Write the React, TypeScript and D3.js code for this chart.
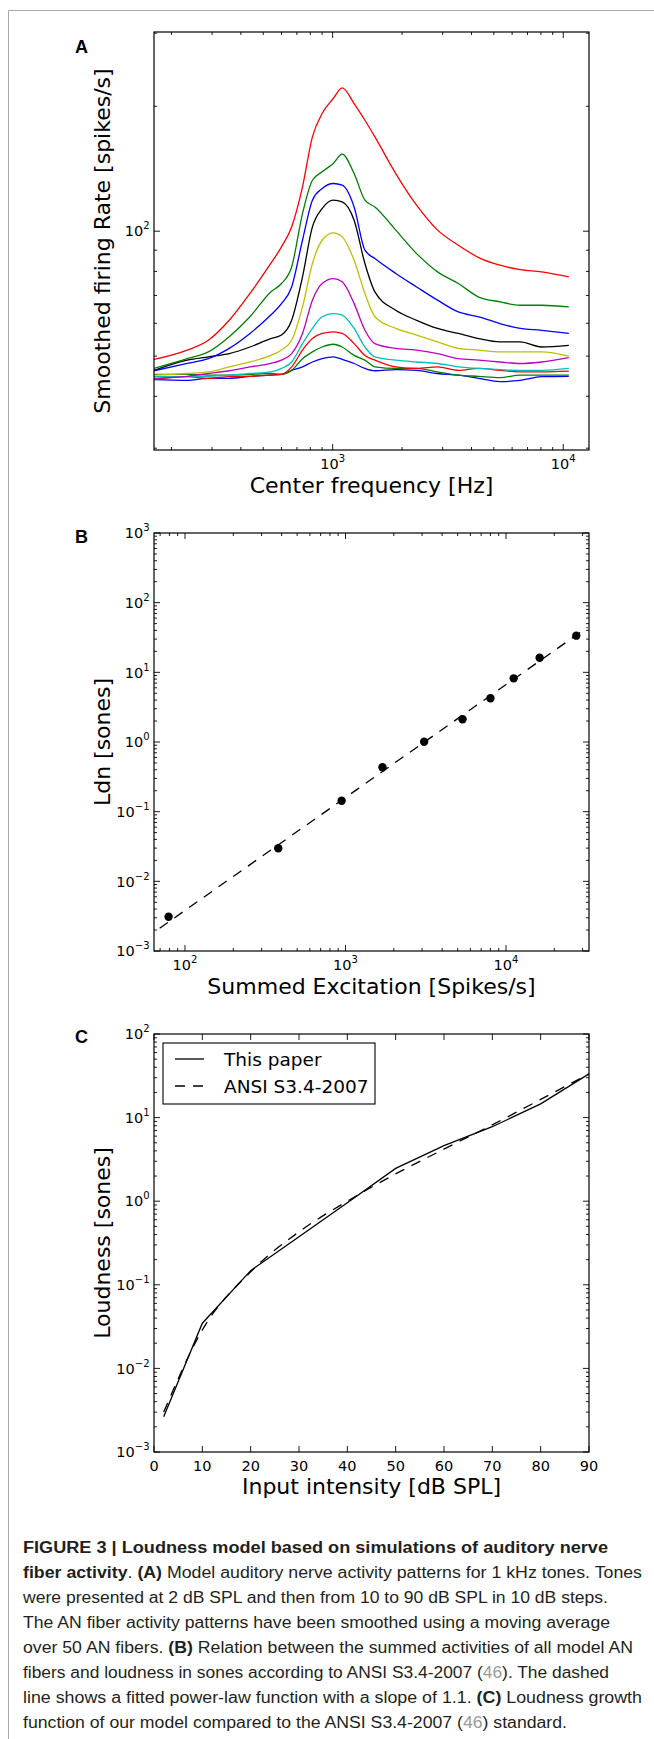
import React from 'react';
import * as d3 from 'd3';

// ---------- Panel A: smoothed AN firing rate vs. centre frequency ----------
const centerFreqs = [168, 234, 289, 356, 438, 539, 600, 664, 740, 817, 900, 1006, 1100, 1239, 1380, 1525, 1878, 2312, 2850, 3506, 4300, 5311, 6500, 8050, 10570];
const rate2dB = [43.9, 43.7, 44.2, 44.2, 44.7, 45.0, 45.2, 46.2, 47.1, 48.4, 49.3, 49.8, 49.1, 48.0, 46.7, 46.1, 46.4, 46.2, 45.4, 45.0, 44.2, 43.4, 43.7, 44.6, 44.7];
const rate10dB = [45.2, 45.2, 45.0, 45.0, 45.2, 45.4, 45.2, 46.2, 49.3, 51.2, 52.6, 53.4, 52.6, 50.2, 48.9, 47.1, 46.7, 46.7, 45.8, 45.0, 44.7, 44.4, 45.0, 45.0, 45.0];
const rate20dB = [43.9, 44.6, 44.2, 44.6, 44.7, 45.0, 45.2, 47.1, 51.7, 55.1, 56.7, 57.2, 56.7, 53.6, 50.2, 48.9, 47.1, 46.7, 47.1, 46.2, 46.7, 46.2, 45.8, 45.8, 46.0];
const rate30dB = [44.6, 44.6, 44.7, 45.0, 45.4, 45.8, 46.7, 48.4, 53.6, 58.3, 62.2, 63.3, 62.8, 58.3, 52.6, 49.8, 48.9, 48.4, 48.0, 47.1, 46.7, 46.4, 46.2, 46.2, 46.7];
const rate40dB = [44.2, 44.7, 45.4, 46.1, 47.1, 48.0, 48.9, 50.7, 56.7, 68.2, 74.8, 76.9, 75.5, 66.9, 57.7, 53.6, 52.2, 51.7, 50.7, 49.3, 48.9, 48.4, 48.0, 48.4, 49.6];
const rate50dB = [45.0, 45.4, 45.8, 47.1, 48.4, 50.2, 51.7, 54.6, 65.7, 83.6, 95.1, 99.1, 96.9, 85.1, 70.8, 62.2, 58.3, 56.2, 54.1, 52.2, 51.7, 51.2, 51.2, 51.2, 50.0];
const rate60dB = [46.2, 48.9, 49.8, 50.7, 52.6, 55.1, 56.2, 61.0, 77.6, 102.4, 113.4, 118.8, 117.7, 106.3, 83.6, 71.4, 64.5, 61.0, 58.3, 56.7, 55.1, 54.1, 54.1, 52.6, 53.1];
const rate70dB = [46.1, 48.0, 49.3, 52.2, 56.7, 62.8, 66.9, 73.4, 95.1, 118.8, 126.7, 130.3, 129.1, 114.4, 90.0, 85.9, 79.1, 73.4, 68.2, 63.9, 62.2, 59.9, 58.3, 57.7, 56.7];
const rate80dB = [46.7, 49.3, 51.2, 55.7, 62.2, 71.4, 74.8, 82.0, 110.3, 132.7, 139.0, 145.6, 153.3, 137.7, 118.8, 114.4, 100.6, 88.3, 79.8, 74.8, 69.4, 67.6, 66.3, 66.3, 65.7];
const rate90dB = [49.1, 51.7, 54.6, 61.0, 70.8, 83.6, 91.7, 102.4, 127.9, 168.8, 192.1, 208.8, 221.5, 203.0, 185.1, 168.8, 137.7, 115.5, 100.6, 92.5, 86.4, 82.8, 80.8, 79.8, 77.6];
const rateSeries = [rate2dB, rate10dB, rate20dB, rate30dB, rate40dB, rate50dB, rate60dB, rate70dB, rate80dB, rate90dB];
// classic matplotlib colour cycle: b g r c m y k
const rateColors = ['#0000ff', '#008000', '#ff0000', '#00bfbf', '#bf00bf', '#bfbf00', '#000000', '#0000ff', '#008000', '#ff0000'];
const freqDomain = [168, 12930];
const rateDomain = [29.7, 302];

// ---------- Panel B: summed excitation vs. ANSI loudness ----------
const summedExcitation = [79, 381, 946, 1700, 3090, 5360, 8000, 11170, 16200, 27400];
const ldnSones = [0.0031, 0.0298, 0.1435, 0.434, 1.01, 2.12, 4.24, 8.2, 16.2, 33.6];
const fitLineX = [69.5, 32200];
const fitLineY = [0.00212, 44.3];
const excitationDomain = [64.1, 32900];
const ldnDomain = [1e-3, 1e3];

// ---------- Panel C: loudness growth ----------
const inputLevels = [2, 10, 20, 30, 40, 50, 60, 70, 80, 90];
const loudnessModel = [0.00264, 0.0347, 0.1476, 0.376, 0.96, 2.47, 4.61, 7.78, 14.6, 33.3];
const loudnessAnsi = [0.003, 0.0288, 0.143, 0.43, 1.0, 2.12, 4.2, 8.2, 16.5, 33.4];
const levelTicks = [0, 10, 20, 30, 40, 50, 60, 70, 80, 90];
const loudnessDomain = [1e-3, 1e2];

// ---------- layout ----------
const W = 654;
const H = 1739;
const L = 154;
const R = 589;
const PH = 418;
const TOPS = [32, 533, 1034];
const TICK_FONT = 'DejaVu Sans, sans-serif';
const DASH = '10,8';

function logTicks(domain: number[]) {
  const majors: number[] = [];
  const minors: number[] = [];
  const lo = Math.floor(Math.log10(domain[0]));
  const hi = Math.ceil(Math.log10(domain[1]));
  for (let p = lo; p <= hi; p++) {
    for (let k = 1; k <= 9; k++) {
      const v = k * Math.pow(10, p);
      if (v < domain[0] * 0.9999 || v > domain[1] * 1.0001) continue;
      if (k === 1) majors.push(p);
      else minors.push(v);
    }
  }
  return { majors, minors };
}

function PowLabel({ x, y, exp, anchor }: { x: number; y: number; exp: number; anchor: string }) {
  const e = exp < 0 ? '\u2212' + Math.abs(exp) : String(exp);
  return (
    <text x={x} y={y} textAnchor={anchor} fontFamily={TICK_FONT} fontSize={14.5} fill="#000">
      10<tspan dy={-7} fontSize={10}>{e}</tspan>
    </text>
  );
}

type Scale = (v: number) => number;

function Frame({ top }: { top: number }) {
  return <rect x={L} y={top} width={R - L} height={PH} fill="none" stroke="#000" strokeWidth={1.2} />;
}

function XLogTicks({ x, domain, top }: { x: Scale; domain: number[]; top: number }) {
  const { majors, minors } = logTicks(domain);
  const bottom = top + PH;
  return (
    <g stroke="#000" strokeWidth={0.9}>
      {minors.map((v, i) => (
        <g key={'m' + i}>
          <line x1={x(v)} x2={x(v)} y1={bottom} y2={bottom - 3} />
          <line x1={x(v)} x2={x(v)} y1={top} y2={top + 3} />
        </g>
      ))}
      {majors.map((p) => (
        <g key={'M' + p}>
          <line x1={x(Math.pow(10, p))} x2={x(Math.pow(10, p))} y1={bottom} y2={bottom - 6} />
          <line x1={x(Math.pow(10, p))} x2={x(Math.pow(10, p))} y1={top} y2={top + 6} />
          <g stroke="none">
            <PowLabel x={x(Math.pow(10, p))} y={bottom + 18.5} exp={p} anchor="middle" />
          </g>
        </g>
      ))}
    </g>
  );
}

function YLogTicks({ y, domain }: { y: Scale; domain: number[] }) {
  const { majors, minors } = logTicks(domain);
  return (
    <g stroke="#000" strokeWidth={0.9}>
      {minors.map((v, i) => (
        <g key={'m' + i}>
          <line x1={L} x2={L + 3} y1={y(v)} y2={y(v)} />
          <line x1={R} x2={R - 3} y1={y(v)} y2={y(v)} />
        </g>
      ))}
      {majors.map((p) => (
        <g key={'M' + p}>
          <line x1={L} x2={L + 6} y1={y(Math.pow(10, p))} y2={y(Math.pow(10, p))} />
          <line x1={R} x2={R - 6} y1={y(Math.pow(10, p))} y2={y(Math.pow(10, p))} />
          <g stroke="none">
            <PowLabel x={149.5} y={y(Math.pow(10, p)) + 5.2} exp={p} anchor="end" />
          </g>
        </g>
      ))}
    </g>
  );
}

function AxisTitle({ text, cx, y }: { text: string; cx: number; y: number }) {
  return (
    <text x={cx} y={y} textAnchor="middle" fontFamily={TICK_FONT} fontSize={22} fill="#000">
      {text}
    </text>
  );
}

function YTitle({ text, cy }: { text: string; cy: number }) {
  return (
    <text
      transform={`translate(110,${cy}) rotate(-90)`}
      textAnchor="middle"
      fontFamily={TICK_FONT}
      fontSize={22}
      fill="#000"
    >
      {text}
    </text>
  );
}

function PanelLetter({ letter, y }: { letter: string; y: number }) {
  return (
    <text x={75} y={y} fontFamily="Liberation Sans, Arial, sans-serif" fontWeight="bold" fontSize={18} fill="#000">
      {letter}
    </text>
  );
}

function PanelA() {
  const top = TOPS[0];
  const x = d3.scaleLog().domain(freqDomain).range([L, R]);
  const y = d3.scaleLog().domain(rateDomain).range([top + PH, top]);
  const line = d3
    .line<number>()
    .x((_, i) => x(centerFreqs[i]))
    .y((d) => y(d))
    .curve(d3.curveMonotoneX);
  return (
    <g>
      <defs>
        <clipPath id="clipA">
          <rect x={L} y={top} width={R - L} height={PH} />
        </clipPath>
      </defs>
      <g clipPath="url(#clipA)">
        {rateSeries.map((s, i) => (
          <path key={i} d={line(s) || ''} fill="none" stroke={rateColors[i]} strokeWidth={1.3} />
        ))}
      </g>
      <Frame top={top} />
      <XLogTicks x={x} domain={freqDomain} top={top} />
      <YLogTicks y={y} domain={rateDomain} />
      <AxisTitle text="Center frequency [Hz]" cx={(L + R) / 2} y={top + PH + 43} />
      <YTitle text="Smoothed firing Rate [spikes/s]" cy={top + PH / 2} />
      <PanelLetter letter="A" y={53} />
    </g>
  );
}

function PanelB() {
  const top = TOPS[1];
  const x = d3.scaleLog().domain(excitationDomain).range([L, R]);
  const y = d3.scaleLog().domain(ldnDomain).range([top + PH, top]);
  const fit = d3
    .line<number>()
    .x((d) => x(d))
    .y((_, i) => y(fitLineY[i]));
  return (
    <g>
      <path d={fit(fitLineX) || ''} fill="none" stroke="#000" strokeWidth={1.3} strokeDasharray={DASH} />
      {summedExcitation.map((v, i) => (
        <circle key={i} cx={x(v)} cy={y(ldnSones[i])} r={4.2} fill="#000" />
      ))}
      <Frame top={top} />
      <XLogTicks x={x} domain={excitationDomain} top={top} />
      <YLogTicks y={y} domain={ldnDomain} />
      <AxisTitle text="Summed Excitation [Spikes/s]" cx={(L + R) / 2} y={top + PH + 43} />
      <YTitle text="Ldn [sones]" cy={top + PH / 2} />
      <PanelLetter letter="B" y={543} />
    </g>
  );
}

function PanelC() {
  const top = TOPS[2];
  const x = d3.scaleLinear().domain([0, 90]).range([L, R]);
  const y = d3.scaleLog().domain(loudnessDomain).range([top + PH, top]);
  const line = (vals: number[]) =>
    d3
      .line<number>()
      .x((_, i) => x(inputLevels[i]))
      .y((d) => y(d))(vals) || '';
  const ansiLine =
    d3
      .line<number>()
      .x((_, i) => x(inputLevels[i]))
      .y((d) => y(d))
      .curve(d3.curveMonotoneX)(loudnessAnsi) || '';
  const bottom = top + PH;
  const lgX = 163;
  const lgY = 1043;
  return (
    <g>
      <path d={ansiLine} fill="none" stroke="#000" strokeWidth={1.3} strokeDasharray={DASH} />
      <path d={line(loudnessModel)} fill="none" stroke="#000" strokeWidth={1.3} />
      <Frame top={top} />
      <g stroke="#000" strokeWidth={0.9}>
        {levelTicks.map((t) => (
          <g key={t}>
            <line x1={x(t)} x2={x(t)} y1={bottom} y2={bottom - 6} />
            <line x1={x(t)} x2={x(t)} y1={top} y2={top + 6} />
            <text
              x={x(t)}
              y={bottom + 18.5}
              textAnchor="middle"
              fontFamily={TICK_FONT}
              fontSize={14.5}
              fill="#000"
              stroke="none"
            >
              {t}
            </text>
          </g>
        ))}
      </g>
      <YLogTicks y={y} domain={loudnessDomain} />
      <AxisTitle text="Input intensity [dB SPL]" cx={(L + R) / 2} y={bottom + 42} />
      <YTitle text="Loudness [sones]" cy={top + PH / 2} />
      <PanelLetter letter="C" y={1043} />
      {/* legend */}
      <rect x={lgX} y={lgY} width={212} height={61} fill="#fff" stroke="#000" strokeWidth={1.1} />
      <line x1={175} x2={204} y1={1059} y2={1059} stroke="#000" strokeWidth={1.3} />
      <line x1={175} x2={204} y1={1086} y2={1086} stroke="#000" strokeWidth={1.3} strokeDasharray={DASH} />
      <text x={224} y={1065.5} fontFamily={TICK_FONT} fontSize={18.5} fill="#000">
        This paper
      </text>
      <text x={224} y={1092.7} fontFamily={TICK_FONT} fontSize={18.5} fill="#000">
        ANSI S3.4-2007
      </text>
    </g>
  );
}

// caption lines: [segments, width]
type Seg = { t: string; b?: boolean; ref?: boolean };
const captionLines: { segs: Seg[]; width: number }[] = [
  { segs: [{ t: 'FIGURE 3 | Loudness model based on simulations of auditory nerve', b: true }], width: 585 },
  {
    segs: [
      { t: 'fiber activity', b: true },
      { t: '. ' },
      { t: '(A)', b: true },
      { t: ' Model auditory nerve activity patterns for 1 kHz tones. Tones' },
    ],
    width: 619,
  },
  { segs: [{ t: 'were presented at 2 dB SPL and then from 10 to 90 dB SPL in 10 dB steps.' }], width: 585 },
  { segs: [{ t: 'The AN fiber activity patterns have been smoothed using a moving average' }], width: 587 },
  {
    segs: [
      { t: 'over 50 AN fibers. ' },
      { t: '(B)', b: true },
      { t: ' Relation between the summed activities of all model AN' },
    ],
    width: 610,
  },
  {
    segs: [
      { t: 'fibers and loudness in sones according to ANSI S3.4-2007 (' },
      { t: '46', ref: true },
      { t: '). The dashed' },
    ],
    width: 586,
  },
  {
    segs: [
      { t: 'line shows a fitted power-law function with a slope of 1.1. ' },
      { t: '(C)', b: true },
      { t: ' Loudness growth' },
    ],
    width: 619,
  },
  {
    segs: [
      { t: 'function of our model compared to the ANSI S3.4-2007 (' },
      { t: '46', ref: true },
      { t: ') standard.' },
    ],
    width: 544,
  },
];

function Caption() {
  return (
    <g fontFamily="Liberation Sans, Arial, sans-serif" fontSize={16} fill="#231f20">
      {captionLines.map((ln, i) => (
        <text key={i} x={23} y={1553 + i * 25} textLength={ln.width} lengthAdjust="spacingAndGlyphs">
          {ln.segs.map((s, j) => (
            <tspan key={j} fontWeight={s.b ? 'bold' : 'normal'} fill={s.ref ? '#9a9a9a' : '#231f20'}>
              {s.t}
            </tspan>
          ))}
        </text>
      ))}
    </g>
  );
}

export default function App() {
  return (
    <svg
      width={W}
      height={H}
      viewBox={`0 0 ${W} ${H}`}
      style={{ position: 'absolute', left: 0, top: 0, background: '#fff' }}
    >
      <rect x={0} y={0} width={W} height={H} fill="#fff" />
      <path d="M8.5,1739 V10.5 H654" fill="none" stroke="#a8a8a8" strokeWidth={1} />
      <PanelA />
      <PanelB />
      <PanelC />
      <Caption />
    </svg>
  );
}
